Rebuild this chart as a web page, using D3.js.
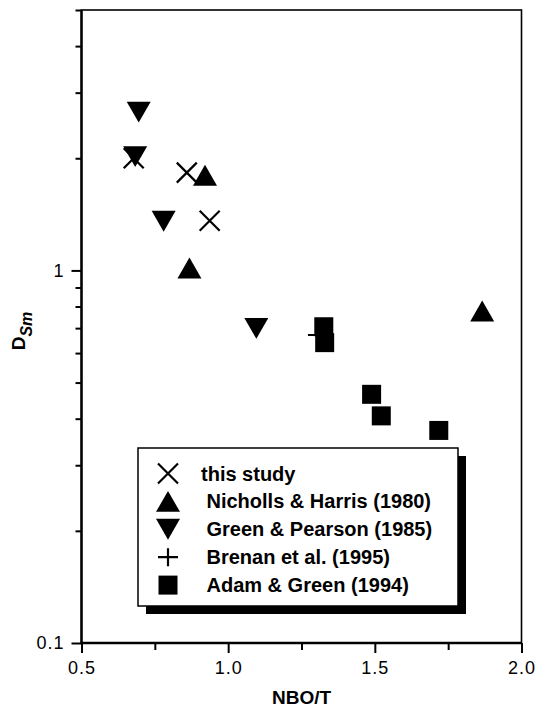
<!DOCTYPE html>
<html>
<head>
<meta charset="utf-8">
<script src="https://cdn.jsdelivr.net/npm/d3@7"></script>
<style>
  body { margin: 0; background: #fff; }
  svg { display: block; }
  text { font-family: "Liberation Sans", Arial, sans-serif; fill: #000; }
</style>
</head>
<body>
<div id="chart"></div>
<script>
// ─── Data (NBO/T vs D_Sm) ───
const thisStudy = [[0.678, 2.00], [0.859, 1.83], [0.937, 1.36]];
const nicholls  = [[0.921, 1.80], [0.868, 1.015], [1.866, 0.778]];
const greenPearson = [[0.695, 2.66], [0.683, 2.02], [0.780, 1.355], [1.096, 0.699]];
const brenan    = [[1.306, 0.671]];
const adamGreen = [[1.326, 0.706], [1.329, 0.640], [1.489, 0.465], [1.522, 0.407], [1.718, 0.372]];

const xMajor = [0.5, 1.0, 1.5, 2.0];
const xMinor = [0.75, 1.25, 1.75];
const yMajor = [0.1, 1];
const yMinor = [0.2, 0.3, 0.4, 0.5, 0.6, 0.7, 0.8, 0.9, 2, 3, 4, 5];

const legendLabels = ["this study", "Nicholls & Harris (1980)", "Green & Pearson (1985)",
                      "Brenan et al. (1995)", "Adam & Green (1994)"];

// ─── Layout ───
const W = 538, H = 707;
const pLeft = 81.5, pRight = 521.5, pTop = 10, pBottom = 643;

const svg = d3.select("#chart").append("svg").attr("width", W).attr("height", H);

const x = d3.scaleLinear().domain([0.5, 2.0]).range([pLeft, pRight]);
const y = d3.scaleLog().domain([0.1, 5]).range([pBottom, pTop]);

// ─── Marker shapes ───
const shapes = {
  cross: (g, s) => g.append("path")
      .attr("d", `M${-s},${-s}L${s},${s}M${-s},${s}L${s},${-s}`)
      .attr("stroke", "#000").attr("stroke-width", 2.2).attr("fill", "none"),
  up: (g, s) => g.append("path")
      .attr("d", `M0,${-s * 0.87}L${s},${s * 0.87}L${-s},${s * 0.87}Z`).attr("fill", "#000"),
  down: (g, s) => g.append("path")
      .attr("d", `M0,${s * 0.87}L${s},${-s * 0.87}L${-s},${-s * 0.87}Z`).attr("fill", "#000"),
  plus: (g, s) => g.append("path")
      .attr("d", `M${-s},0L${s},0M0,${-s * 0.9}L0,${s * 0.9}`)
      .attr("stroke", "#000").attr("stroke-width", 2.2).attr("fill", "none"),
  square: (g, s) => g.append("rect")
      .attr("x", -s).attr("y", -s).attr("width", 2 * s).attr("height", 2 * s).attr("fill", "#000")
};
const sizes = { cross: 10, up: 12, down: 12, plus: 10, square: 9.5 };

// ─── Axes ───
const fmtX = d3.format(".1f");

svg.append("g").attr("transform", `translate(0,${pBottom})`)
  .call(d3.axisBottom(x).tickValues(xMajor).tickSize(10).tickPadding(8).tickFormat(fmtX))
  .call(g => g.select(".domain").remove())
  .call(g => g.selectAll("line").attr("stroke-width", 2))
  .call(g => g.selectAll("text").attr("font-size", 18).attr("letter-spacing", 1)
              .style("font-family", "'Liberation Sans', Arial, sans-serif"));

svg.append("g").attr("transform", `translate(0,${pBottom})`)
  .call(d3.axisBottom(x).tickValues(xMinor).tickSize(7).tickFormat(""))
  .call(g => g.select(".domain").remove())
  .call(g => g.selectAll("line").attr("stroke-width", 2));

svg.append("g").attr("transform", `translate(${pLeft},0)`)
  .call(d3.axisLeft(y).tickValues(yMajor).tickSize(10).tickPadding(7).tickFormat(d => String(d)))
  .call(g => g.select(".domain").remove())
  .call(g => g.selectAll("line").attr("stroke-width", 2))
  .call(g => g.selectAll("text").attr("font-size", 18).attr("letter-spacing", 1)
              .style("font-family", "'Liberation Sans', Arial, sans-serif"));

svg.append("g").attr("transform", `translate(${pLeft},0)`)
  .call(d3.axisLeft(y).tickValues(yMinor).tickSize(6).tickFormat(""))
  .call(g => g.select(".domain").remove())
  .call(g => g.selectAll("line").attr("stroke-width", 2));

// frame
svg.append("rect")
  .attr("x", pLeft).attr("y", pTop)
  .attr("width", pRight - pLeft).attr("height", pBottom - pTop)
  .attr("fill", "none").attr("stroke", "#000").attr("stroke-width", 1.6);
svg.append("line").attr("x1", pLeft).attr("x2", pLeft).attr("y1", pTop).attr("y2", pBottom + 1)
  .attr("stroke", "#000").attr("stroke-width", 2.4);
svg.append("line").attr("x1", pLeft - 1).attr("x2", pRight).attr("y1", pBottom).attr("y2", pBottom)
  .attr("stroke", "#000").attr("stroke-width", 2.4);

// ─── Axis titles ───
svg.append("text")
  .attr("x", (pLeft + pRight) / 2).attr("y", 704)
  .attr("text-anchor", "middle")
  .attr("font-size", 19).attr("font-weight", "bold")
  .text("NBO/T");

const yt = svg.append("text")
  .attr("transform", `translate(25,${331}) rotate(-90)`)
  .attr("text-anchor", "middle")
  .attr("font-size", 19).attr("font-weight", "bold");
yt.append("tspan").text("D");
yt.append("tspan").attr("dy", 7).attr("font-size", 16).attr("font-style", "italic").text("Sm");

// ─── Points ───
const series = [
  { data: thisStudy, shape: "cross" },
  { data: brenan, shape: "plus" },
  { data: nicholls, shape: "up" },
  { data: greenPearson, shape: "down" },
  { data: adamGreen, shape: "square" }
];

series.forEach(s => {
  svg.append("g").selectAll("g")
    .data(s.data).enter().append("g")
      .attr("transform", d => `translate(${x(d[0])},${y(d[1])})`)
      .each(function() { shapes[s.shape](d3.select(this), sizes[s.shape]); });
});

// ─── Legend ───
const lg = { x: 138, y: 448, w: 320, h: 158, off: 8 };
svg.append("rect")
  .attr("x", lg.x + lg.off).attr("y", lg.y + lg.off)
  .attr("width", lg.w).attr("height", lg.h).attr("fill", "#000");
svg.append("rect")
  .attr("x", lg.x).attr("y", lg.y)
  .attr("width", lg.w).attr("height", lg.h)
  .attr("fill", "#fff").attr("stroke", "#000").attr("stroke-width", 1.5);

const legendShapes = ["cross", "up", "down", "plus", "square"];
const legendTextX = [201, 206.5, 206.5, 206.5, 206.5];

legendLabels.forEach((label, i) => {
  const cy = 473.5 + i * 27.9;
  const g = svg.append("g").attr("transform", `translate(168,${cy})`);
  shapes[legendShapes[i]](g, sizes[legendShapes[i]]);
  svg.append("text")
    .attr("x", legendTextX[i]).attr("y", cy + 7)
    .attr("font-size", 20).attr("font-weight", "bold")
    .text(label);
});
</script>
</body>
</html>
